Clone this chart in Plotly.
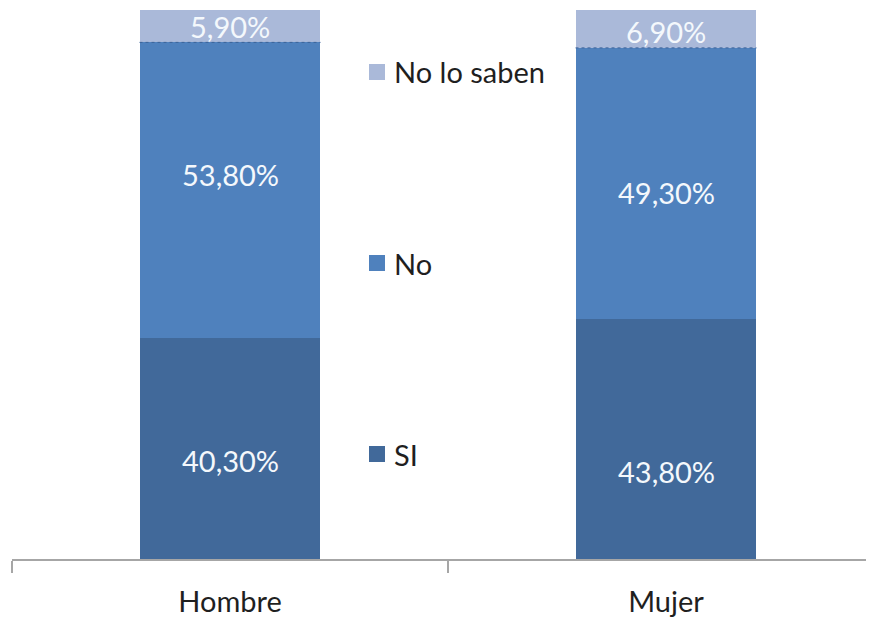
import plotly.graph_objects as go

categories = ["Hombre", "Mujer"]
series_names = ["SI", "No", "No lo saben"]
si_values = [40.3, 43.8]
no_values = [53.8, 49.3]
nls_values = [5.9, 6.9]
colors = ["#41699A", "#4F81BD", "#AAB9D9"]
# vertical nudges (px, positive = up) of the data labels, as placed in the original
label_nudge = {"SI": [-12, -33], "No": [16, -9], "No lo saben": [0, -3]}

OFF = 8  # default page body margin
W, H = 874 - OFF, 621 - OFF
ML, MR, MT, MB = 12 - OFF, 0, 10 - OFF, 62
plot_w = W - ML - MR
plot_h = H - MT - MB
cat_px = 436.0
x_end = -0.5 + plot_w / cat_px
BAR_W = 0.415

def fmt(v):
    return f"{v:.2f}".replace(".", ",") + "%"

FONT = "Lato"
FS = 29
fig = go.Figure()
annotations = []
shapes = []
base = [0.0, 0.0]
all_vals = [si_values, no_values, nls_values]
for name, vals, col in zip(series_names, all_vals, colors):
    fig.add_trace(go.Bar(
        x=categories, y=vals, name=name,
        marker=dict(color=col, line=dict(width=0)),
        width=BAR_W,
        hoverinfo="skip",
        showlegend=False,
    ))
    for i, (c, v) in enumerate(zip(categories, vals)):
        annotations.append(dict(x=c, y=base[i] + v / 2, xref="x", yref="y",
                                text=fmt(v), showarrow=False,
                                xanchor="center", yanchor="middle",
                                yshift=label_nudge[name][i],
                                font=dict(family=FONT, size=FS, color="#F4F8FC")))
        base[i] += v
    if name == "No":
        for i in range(len(categories)):
            shapes.append(dict(type="line", xref="x", yref="y",
                               x0=i - BAR_W / 2, x1=i + BAR_W / 2,
                               y0=base[i], y1=base[i],
                               line=dict(color="#3D6399", width=1, dash="dot")))

# legend drawn in the gap between bars (page pixel positions)
legend_y_px = {"SI": 454, "No": 263, "No lo saben": 72}
sq_left, sq_size, text_left = 369, 16, 392
base_px = 559
for name, col in zip(series_names, colors):
    cy = legend_y_px[name]
    y0 = (base_px - (cy + sq_size / 2)) / plot_h
    y1 = (base_px - (cy - sq_size / 2)) / plot_h
    shapes.append(dict(type="rect", xref="paper", yref="paper",
                       x0=(sq_left - 12) / plot_w, x1=(sq_left + sq_size - 12) / plot_w,
                       y0=y0, y1=y1, fillcolor=col, line=dict(width=0)))
    annotations.append(dict(xref="paper", yref="paper",
                            x=(text_left - 12) / plot_w,
                            y=(base_px - cy) / plot_h,
                            xanchor="left", yanchor="middle", showarrow=False,
                            text=name, font=dict(family=FONT, size=FS, color="#1F1F1F")))

fig.update_layout(
    barmode="stack",
    width=W, height=H,
    margin=dict(l=ML, r=MR, t=MT, b=MB, pad=0),
    plot_bgcolor="white", paper_bgcolor="white",
    shapes=shapes, annotations=annotations,
    xaxis=dict(range=[-0.5, x_end], showline=True, linecolor="#A6A6A6", linewidth=2,
               ticks="outside", ticklen=12, tickwidth=2, tickcolor="#A6A6A6",
               tickson="boundaries", showgrid=False, zeroline=False,
               ticklabelstandoff=16,
               tickfont=dict(family=FONT, size=FS, color="#1F1F1F")),
    yaxis=dict(range=[0, 100], visible=False, showgrid=False),
)
fig.write_html("out.html")
